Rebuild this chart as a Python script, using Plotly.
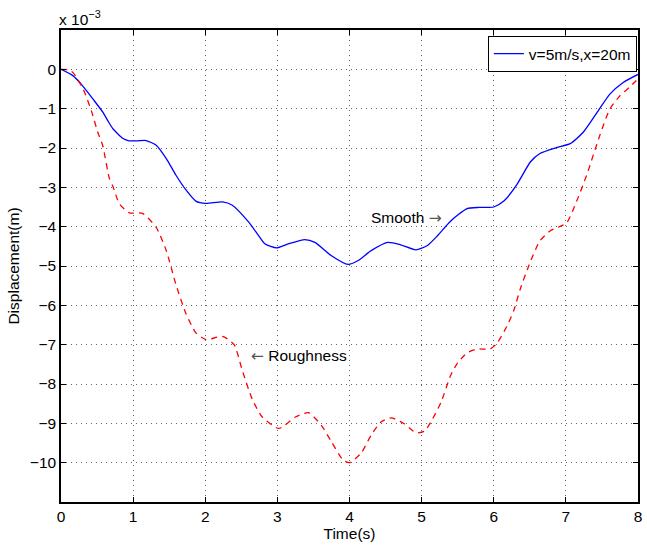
import plotly.graph_objects as go

# Displacement values in units of 1e-3 m
t_smooth = [0, 0.165, 0.30, 0.445, 0.58, 0.65, 0.72, 0.86, 0.93, 1.05, 1.18, 1.32, 1.46, 1.59, 1.73, 1.87, 2.01,
            2.24, 2.37, 2.60, 2.74, 2.83, 2.99, 3.15, 3.38, 3.52, 3.75, 3.98, 4.12, 4.30, 4.53, 4.71,
            4.92, 5.08, 5.22, 5.40, 5.63, 5.80, 6.0, 6.14, 6.32, 6.51, 6.64, 6.87, 7.06, 7.24, 7.45,
            7.61, 7.79, 8.0]
v_smooth = [0, -0.16, -0.42, -0.76, -1.09, -1.31, -1.51, -1.76, -1.81, -1.82, -1.81, -1.93, -2.27, -2.68, -3.06, -3.35, -3.41,
            -3.37, -3.45, -3.88, -4.23, -4.44, -4.54, -4.44, -4.33, -4.40, -4.74, -4.96, -4.86, -4.61, -4.40, -4.46,
            -4.59, -4.48, -4.23, -3.86, -3.54, -3.51, -3.50, -3.35, -2.93, -2.35, -2.14, -1.99, -1.89, -1.60, -1.05,
            -0.63, -0.34, -0.13]

t_rough = [0, 0.10, 0.17, 0.31, 0.42, 0.51, 0.58, 0.67, 0.72, 0.81, 0.95, 1.13, 1.32, 1.46, 1.59, 1.73, 1.87,
           2.01, 2.24, 2.40, 2.51, 2.65, 2.79, 3.02, 3.25, 3.43, 3.61, 3.75, 3.91, 4.0, 4.16, 4.30, 4.44,
           4.58, 4.76, 4.92, 5.04, 5.13, 5.27, 5.40, 5.50, 5.63, 5.77, 5.95, 6.05, 6.18, 6.28, 6.37, 6.51,
           6.64, 6.78, 7.01, 7.15, 7.29, 7.47, 7.61, 7.75, 7.88, 8.0]
v_rough = [0, -0.01, -0.09, -0.51, -1.05, -1.6, -1.95, -2.77, -2.98, -3.42, -3.65, -3.66, -4.02, -4.61, -5.45, -6.20, -6.70,
           -6.87, -6.79, -7.0, -7.63, -8.38, -8.84, -9.13, -8.84, -8.73, -9.05, -9.47, -9.93, -10.0, -9.76, -9.30, -8.96,
           -8.86, -9.01, -9.24, -9.20, -8.96, -8.46, -7.79, -7.46, -7.21, -7.11, -7.11, -6.95, -6.54, -6.12, -5.57, -4.88,
           -4.36, -4.11, -3.90, -3.35, -2.68, -1.68, -1.01, -0.67, -0.46, -0.24]

x_ticks = [0, 1, 2, 3, 4, 5, 6, 7, 8]
y_ticks = [0, -1, -2, -3, -4, -5, -6, -7, -8, -9, -10]
legend_label = "v=5m/s,x=20m"

fig = go.Figure()
fig.add_trace(go.Scatter(x=t_smooth, y=v_smooth, mode="lines", name=legend_label,
                         line=dict(color="#0000ff", width=1.3, shape="spline", smoothing=0.6)))
fig.add_trace(go.Scatter(x=t_rough, y=v_rough, mode="lines", showlegend=False,
                         line=dict(color="#ff0000", width=1.3, dash="6px,5px", shape="spline", smoothing=0.6)))

font = dict(family="Liberation Sans, Arial, sans-serif", size=15.5, color="black")

axis_common = dict(showline=True, linecolor="black", linewidth=1.5, mirror="allticks",
                   ticks="inside", ticklen=5, tickcolor="black", showgrid=True,
                   gridcolor="#666666", griddash="1px,4px", gridwidth=1, zeroline=False,
                   tickfont=font)

fig.update_xaxes(range=[0, 8], tickvals=x_ticks, title=dict(text="Time(s)", font=font, standoff=2),
                 **axis_common)
fig.update_yaxes(range=[-11, 1], tickvals=y_ticks, title=dict(text="Displacement(m)", font=font, standoff=6),
                 **axis_common)

arrow_style = "color:#555555;font-family:DejaVu Sans"
fig.add_annotation(text="x 10<sup>−3</sup>", xref="paper", yref="paper", x=0, y=1,
                   xanchor="left", yanchor="bottom", showarrow=False, font=font, yshift=0, xshift=-4)
fig.add_annotation(text=f"Smooth <span style='{arrow_style}'>→</span>", x=4.27, y=-3.77,
                   xanchor="left", yanchor="middle", showarrow=False, font=font)
fig.add_annotation(text=f"<span style='{arrow_style}'>←</span> Roughness", x=2.6, y=-7.29,
                   xanchor="left", yanchor="middle", showarrow=False, font=font)

fig.update_layout(width=647, height=548, margin=dict(l=61, r=5, t=30, b=46),
                  paper_bgcolor="white", plot_bgcolor="white", font=font,
                  legend=dict(x=0.998, y=0.987, xanchor="right", yanchor="top",
                              bordercolor="black", borderwidth=1, bgcolor="white",
                              font=font, tracegroupgap=0, itemwidth=30))

fig.write_html("out.html")
